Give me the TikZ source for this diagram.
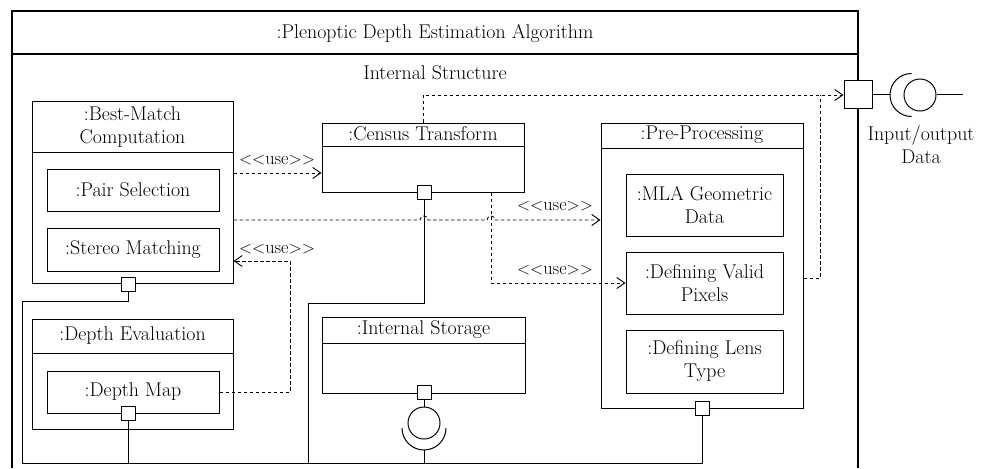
\documentclass[tikz,border=0pt]{standalone}
\usetikzlibrary{arrows.meta,calc}
\tikzset{
  every node/.style={font=\fontsize{19.9pt}{23pt}\selectfont},
  comp/.style={draw, line width=1pt, inner sep=0pt, rectangle},
  part/.style={draw, line width=1pt, inner sep=0pt, align=center},
  port/.style={draw, fill=white, line width=1pt, minimum size=14pt, inner sep=0pt},
  ball/.style={draw, circle, line width=1pt, minimum size=32pt, inner sep=0pt},
  dep/.style={line width=0.9pt, dash pattern=on 3.5pt off 2.5pt,
              -{Straight Barb[length=8pt,width=11pt]}},
  wire/.style={line width=1pt},
  frame/.style={line width=1.2pt},
  lbl/.style={inner sep=0pt, font=\fontsize{18.3pt}{22pt}\selectfont},
}
\newcommand{\usetag}{$<<$use$>>$}

\begin{document}
\begin{tikzpicture}[x=1pt,y=-1pt]
\useasboundingbox (0,0) rectangle (984,468);

% enclosing component
\draw[frame] (12,468) -- (12,11) -- (858,11) -- (858,468);
\draw[frame] (12,54) -- (858,54);
\node (title) at (435,33) {:Plenoptic Depth Estimation Algorithm};
\node (inner) at (435,73) {Internal Structure};

% Best-Match Computation
\node[comp, minimum width=201pt, minimum height=181pt] (bm) at (132.5,192.5) {};
\draw[wire] (bm.west |- 0,152) -- (bm.east |- 0,152);
\node[align=center] (bmt) at (132.5,127) {:Best-Match\\Computation};
\node[part, minimum width=172pt, minimum height=42pt] (pair) at (133,190) {:Pair Selection};
\node[part, minimum width=172pt, minimum height=43pt] (stereo) at (133,249.5) {:Stereo Matching};
\node[port] (bmp) at (128,284) {};

% Depth Evaluation
\node[comp, minimum width=201pt, minimum height=110pt] (de) at (132.5,374) {};
\draw[wire] (de.west |- 0,353) -- (de.east |- 0,353);
\node (det) at (132.5,336) {:Depth Evaluation};
\node[part, minimum width=172pt, minimum height=42pt] (dm) at (133,392) {:Depth Map};
\node[port] (dmp) at (128,413) {};

% Census Transform
\node[comp, minimum width=202pt, minimum height=69pt] (ct) at (423,157.5) {};
\draw[wire] (ct.west |- 0,146) -- (ct.east |- 0,146);
\node (ctt) at (423,134) {:Census Transform};
\node[port] (ctp) at (424,192) {};

% Internal Storage
\node[comp, minimum width=203pt, minimum height=76pt] (is) at (423.5,355) {};
\draw[wire] (is.west |- 0,343) -- (is.east |- 0,343);
\node (ist) at (423.5,330) {:Internal Storage};
\node[port] (isp) at (424,392) {};
\node[ball] (isb) at (424,423) {};
\draw[wire] (isp.south) -- (isb.north);
\draw[wire] (402,428) arc[start angle=180, end angle=360, radius=22pt];
\coordinate (iss) at (424,450);

% Pre-Processing
\node[comp, minimum width=202pt, minimum height=285pt] (pp) at (702,265.5) {};
\draw[wire] (pp.west |- 0,148) -- (pp.east |- 0,148);
\node (ppt) at (702,135) {:Pre-Processing};
\node[part, minimum width=157pt, minimum height=62pt] (mla) at (704.5,205) {:MLA Geometric\\Data};
\node[part, minimum width=157pt, minimum height=62pt] (dvp) at (704.5,283) {:Defining Valid\\Pixels};
\node[part, minimum width=157pt, minimum height=63pt] (dlt) at (704.5,361.5) {:Defining Lens\\Type};
\node[port] (ppp) at (702,408) {};

% external port with provided/required interface
\node[port, minimum size=28pt] (iop) at (858,95) {};
\draw[wire] (iop.east) -- (890,95);
\draw[wire] (911.5,73.5) arc[start angle=90, end angle=270, radius=21.5pt];
\node[ball] (iob) at (920,95) {};
\coordinate (ioend) at (963,95);
\draw[wire] (iob.east) -- (ioend);
\node[align=center] (iol) at (921,145) {Input/output\\Data};

% assembly wiring along the bottom
\coordinate (busL) at (22,463);
\draw[wire] (bmp.south) |- (22,301) -- (busL) -- (ppp.south |- busL) -- (ppp.south);
\draw[wire] (ctp.south) |- (308,303) -- (308,0 |- busL);
\draw[wire] (dmp.south) -- (dmp.south |- busL);
\draw[wire] (iss) -- (iss |- busL);

% usage dependencies (small hops where lines cross)
\draw[dep] (bm.east |- 0,173) -- (ct.west |- 0,173);
\node[lbl] (u1) at (277,160) {\usetag};
\draw[dep] (bm.east |- 0,220) -- (420,220) .. controls (420,214.7) and (428,214.7) .. (428,220)
  -- (487,220) .. controls (487,214.7) and (495,214.7) .. (495,220) -- (pp.west |- 0,220);
\node[lbl] (u2) at (555,206) {\usetag};
\draw[dep] (491,0 |- ct.south) |- (dvp.west);
\node[lbl] (u3) at (555,270) {\usetag};
\draw[dep] (dm.east) -| (290,261) -- (bm.east |- 0,261);
\node[lbl] (u4) at (277,249) {\usetag};
\draw[dep] (ct.north) |- (iop.west);
\draw[dep, -] (pp.east |- 0,278) -| (820,95);
\end{tikzpicture}
\end{document}
